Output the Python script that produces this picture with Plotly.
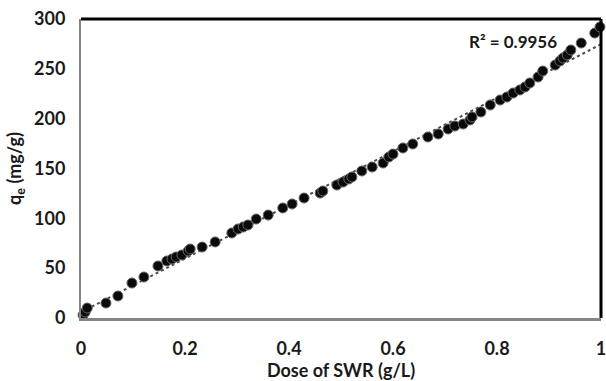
import numpy as np
import plotly.graph_objects as go

dose = [0.004, 0.008, 0.012, 0.048, 0.071, 0.098, 0.121, 0.148, 0.165, 0.175,
        0.183, 0.194, 0.206, 0.210, 0.233, 0.258, 0.290, 0.302, 0.312, 0.321,
        0.337, 0.360, 0.388, 0.406, 0.429, 0.460, 0.465, 0.492, 0.504, 0.515,
        0.521, 0.540, 0.560, 0.581, 0.592, 0.600, 0.619, 0.638, 0.667, 0.687,
        0.706, 0.719, 0.735, 0.748, 0.752, 0.769, 0.787, 0.806, 0.819, 0.831,
        0.844, 0.854, 0.863, 0.879, 0.888, 0.912, 0.921, 0.927, 0.935, 0.942,
        0.962, 0.988, 0.998]
qe = [3.0, 6.0, 10.0, 15.0, 22.1, 35.1, 41.1, 52.2, 57.2, 59.2,
      61.2, 63.2, 67.2, 69.2, 71.2, 76.3, 85.3, 89.3, 91.3, 93.3,
      99.3, 103.3, 110.4, 114.4, 120.4, 125.4, 127.4, 133.4, 136.4, 139.5,
      141.5, 147.5, 151.5, 155.5, 161.5, 164.5, 170.6, 174.6, 181.6, 184.6,
      189.6, 192.6, 194.6, 198.7, 201.7, 206.7, 213.7, 218.7, 221.7, 225.7,
      228.8, 231.8, 235.8, 241.8, 247.8, 253.8, 257.9, 260.9, 263.9, 268.9,
      275.9, 285.9, 292.0]
x_ticks = [0, 0.2, 0.4, 0.6, 0.8, 1]
x_tick_text = ["0", "0.2", "0.4", "0.6", "0.8", "1"]
y_ticks = [0, 50, 100, 150, 200, 250, 300]
r2_text = "R² = 0.9956"

slope, intercept = np.polyfit(dose, qe, 1)
fit_x = [0, 1]
fit_y = [intercept + slope * v for v in fit_x]

FONT = "Lato"
TXT = "#1a1a1a"

fig = go.Figure()
fig.add_trace(go.Scatter(
    x=fit_x, y=fit_y, mode="lines",
    line=dict(color="#4d4d4d", width=2, dash="dot"),
    hoverinfo="skip", showlegend=False))
fig.add_trace(go.Scatter(
    x=dose, y=qe, mode="markers",
    marker=dict(color="#0a0a0a", size=10, line=dict(color="#666666", width=1)),
    showlegend=False, cliponaxis=False))

fig.update_layout(
    width=606, height=381,
    margin=dict(l=81, r=5, t=19, b=63),
    paper_bgcolor="white", plot_bgcolor="white",
    font=dict(family=FONT, size=18, color=TXT),
    xaxis=dict(range=[0, 1], tickvals=x_ticks, ticktext=x_tick_text,
               automargin=False, ticklabeloverflow="allow",
               showgrid=False, zeroline=False, showline=True,
               linecolor="#858585", linewidth=3, ticks="",
               ticklabelstandoff=12,
               tickfont=dict(family=FONT, size=18, color=TXT, weight="bold"),
               title=dict(text="Dose of SWR (g/L)", standoff=4,
                          font=dict(family=FONT, size=18, color=TXT, weight="bold"))),
    yaxis=dict(range=[0, 300], tickvals=y_ticks,
               automargin=False,
               showgrid=False, zeroline=False, showline=True,
               linecolor="#858585", linewidth=2, ticks="",
               ticklabelstandoff=10,
               tickfont=dict(family=FONT, size=18, color=TXT, weight="bold"),
               title=dict(text="q<sub>e</sub> (mg/g)", standoff=8,
                          font=dict(family=FONT, size=18, color=TXT, weight="bold"))),
    shapes=[
        dict(type="line", xref="paper", yref="paper", x0=0, x1=1, y0=1, y1=1,
             line=dict(color="black", width=3)),
        dict(type="line", xref="paper", yref="paper", x0=1, x1=1, y0=0, y1=1,
             line=dict(color="black", width=3)),
    ],
    annotations=[dict(text=r2_text, xref="paper", yref="paper", x=0.831, y=0.926,
                      xanchor="center", yanchor="middle", showarrow=False,
                      font=dict(family=FONT, size=17, color=TXT, weight="bold"))],
)

fig.write_html("out.html")
